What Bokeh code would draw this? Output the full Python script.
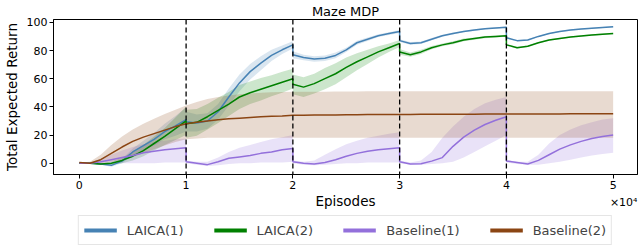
from bokeh.plotting import figure
from bokeh.layouts import column
from bokeh.models import Span, Legend, LegendItem, Label, FixedTicker, Range1d, ColumnDataSource
from bokeh.embed import file_html
from bokeh.resources import INLINE

# ---------------- data ----------------
stage_starts = [0, 10000, 20000, 30000, 40000]
stage_offsets = [0, 1000, 2000, 3000, 4000, 5000, 6000, 7000, 8000, 9000, 10000]
episodes = [s + o for s in stage_starts for o in stage_offsets]

laica1 = [0, 0, -0.5, -1.5, 1.5, 8, 12.5, 17, 22.5, 26.5, 31,
          29.5, 28.5, 30, 36.5, 47, 57, 65, 71, 76.5, 80.5, 84,
          77, 75, 74, 74.5, 76.5, 80.5, 85.5, 88, 90.5, 92, 93.5,
          87, 85, 85.5, 88, 90.5, 92, 93.5, 94.5, 95.5, 96, 96.5,
          89, 87, 87.5, 90, 92, 93.5, 94.5, 95.2, 95.8, 96.3, 96.8]
laica1_hw = [0, 0, 0.5, 1, 1.5, 2.5, 3.5, 4.5, 5.5, 7, 8.5,
             7, 6, 5.5, 5.5, 6, 6, 5.5, 5, 4, 3, 2.5,
             2.5, 2, 2, 2, 2, 1.5, 1.5, 1.2, 1, 1, 1,
             1, 1, 0.8, 0.8, 0.7, 0.7, 0.6, 0.6, 0.5, 0.5, 0.5,
             0.5, 0.5, 0.5, 0.5, 0.4, 0.4, 0.4, 0.4, 0.4, 0.4, 0.4]

laica2 = [0, 0, -0.5, 0, 2, 5, 9, 14, 19, 24.5, 30,
          28, 29, 33, 37.5, 42, 47, 50, 52.5, 55, 57.5, 60,
          56, 54, 56.5, 60, 63.5, 68, 72, 75.5, 79, 82, 85,
          79, 77, 79, 82, 84, 85.5, 87.5, 88.5, 89.5, 90, 90.5,
          84, 82, 83, 85.5, 87.5, 88.5, 89.5, 90.3, 91, 91.5, 92]
laica2_hw = [0, 0, 0.5, 1, 2, 3, 4, 5, 6, 8, 10,
             10, 9.5, 9, 9, 8.5, 8.5, 8, 8, 7.5, 7.5, 7,
             7, 7, 7, 7.5, 7.5, 7, 6, 5, 4, 3, 2.5,
             2, 1.5, 1.5, 1.2, 1, 1, 1, 0.8, 0.8, 0.7, 0.7,
             0.7, 0.6, 0.6, 0.6, 0.5, 0.5, 0.5, 0.5, 0.5, 0.5, 0.5]

base1 = [0, 0, 1, 2.5, 4, 5.5, 7.5, 8.5, 9.5, 10.3, 11,
         1, 0, -1, 1, 3.5, 4.5, 5.5, 7, 8, 9.5, 10.5,
         1, 0, -0.5, 0.5, 2.5, 5, 7, 8.5, 9.5, 10.3, 11,
         1, -0.5, -0.3, 1.5, 4, 12, 18.5, 23.5, 27.5, 30.5, 33,
         1.5, 0.5, -0.5, 2, 6, 10, 13, 15.5, 17.5, 19, 20]
base1_hi = [0, 0.5, 3, 6, 9, 11.5, 13.5, 15, 16, 17, 17.5,
            2, 1, 1, 4, 8, 11, 13, 15, 17, 18.5, 20,
            2, 1, 2, 6, 10, 13.5, 16, 18, 19.5, 21, 22,
            2, 0.5, 2, 8, 18, 26, 33, 38.5, 42.5, 45, 47,
            2.5, 1, 1, 6, 14, 20, 24, 27, 29, 31, 32]
base1_lo = [0, -0.5, -0.5, 0, 0, 0, 0, 0, 0.5, 0.5, 0.5,
            0, -1, -2, -1.5, -0.5, 0, 0, 0.5, 0.5, 0.5, 1,
            0, -1, -1.5, -1, -0.5, 0, 0, 0.5, 0.5, 0.5, 0.5,
            0, -1, -1, -0.5, 0, 1, 4, 8, 12, 16, 20,
            0.5, -0.5, -1, -1, 0, 1, 2.5, 4, 5.5, 6.5, 7.5]

base2 = [0.5, 0, 2.5, 7, 11.5, 15.5, 18.5, 21, 23.5, 26, 28,
         28, 29, 30, 30.8, 31.5, 32, 32.5, 33, 33.3, 33.6, 34,
         34, 34.1, 34.2, 34.3, 34.3, 34.4, 34.4, 34.5, 34.5, 34.5, 34.6,
         34.6, 34.6, 34.7, 34.7, 34.7, 34.8, 34.8, 34.8, 34.9, 34.9, 34.9,
         34.9, 35, 35, 35, 35, 35, 35.1, 35.1, 35.1, 35.1, 35.1]
base2_hi = [0.5, 1, 6, 13, 19, 24, 28, 31.5, 35, 38, 41,
            41, 43.5, 45.5, 47, 48, 49, 49.5, 50, 50.3, 50.5, 50.7,
            50.7, 50.8, 50.8, 50.8, 50.9, 50.9, 50.9, 51, 51, 51, 51,
            51, 51, 51, 51, 51, 51, 51, 51, 51, 51, 51,
            51, 51, 51, 51, 51, 51, 51, 51, 51, 51, 51]
base2_lo = [0.5, -0.5, 0, 1, 2.5, 4.5, 7, 10, 12.5, 15, 17,
            17, 17.5, 18, 18, 18, 18, 18, 18, 18, 18, 18,
            18, 18, 18, 18, 18, 18, 18, 18, 18, 18, 18,
            18, 18, 18, 18, 18, 18, 18, 18, 18, 18, 18,
            18, 18, 18, 18, 18, 18, 18, 18, 18, 18, 18]

series_names = ["LAICA(1)", "LAICA(2)", "Baseline(1)", "Baseline(2)"]
series_colors = ["#4682b4", "#008000", "#9370db", "#8b4513"]
x_ticks = [0, 10000, 20000, 30000, 40000, 50000]
x_tick_labels = ["0", "1", "2", "3", "4", "5"]
y_ticks = [0, 20, 40, 60, 80, 100]
boundaries = [10000, 20000, 30000, 40000]

# ---------------- main figure ----------------
FONT = "DejaVu Sans"
W = 640
H1 = 192
H2 = 56
BL, BR = 48, 3
xr = Range1d(-2420, 52280)

p = figure(width=W, height=H1, output_backend="svg", toolbar_location=None,
           x_range=xr, y_range=Range1d(-8, 102),
           min_border_left=BL, min_border_right=BR, min_border_top=16, min_border_bottom=18,
           title="Maze MDP")
p.title.align = "center"
p.title.text_font = FONT
p.title.text_font_size = "13px"
p.title.text_font_style = "normal"
p.title.text_color = "black"
p.title.standoff = 2
p.title.offset = 0

p.grid.visible = False
p.outline_line_color = "black"
p.outline_line_width = 1
p.background_fill_color = "white"
p.border_fill_color = "white"

src = ColumnDataSource(dict(
    x=episodes,
    l1=laica1, l1_lo=[m - h for m, h in zip(laica1, laica1_hw)], l1_hi=[m + h for m, h in zip(laica1, laica1_hw)],
    l2=laica2, l2_lo=[m - h for m, h in zip(laica2, laica2_hw)], l2_hi=[m + h for m, h in zip(laica2, laica2_hw)],
    b1=base1, b1_lo=base1_lo, b1_hi=base1_hi,
    b2=base2, b2_lo=base2_lo, b2_hi=base2_hi,
))

keys = ["l1", "l2", "b1", "b2"]
for k, c in zip(keys, series_colors):
    p.varea(x="x", y1=k + "_lo", y2=k + "_hi", source=src, fill_color=c, fill_alpha=0.2)

for b in boundaries:
    p.add_layout(Span(location=b, dimension="height", line_color="black",
                      line_dash="5 3", line_width=1.3))

for k, c in zip(keys, series_colors):
    p.line(x="x", y=k, source=src, line_color=c, line_width=1.5)

for ax in (p.xaxis[0], p.yaxis[0]):
    ax.axis_line_color = "black"
    ax.major_tick_line_color = "black"
    ax.major_tick_out = 4
    ax.major_tick_in = 0
    ax.minor_tick_line_color = None
    ax.major_label_text_font = FONT
    ax.major_label_text_font_size = "11px"
    ax.major_label_text_color = "black"
    ax.axis_label_text_font = FONT
    ax.axis_label_text_font_size = "13.5px"
    ax.axis_label_text_font_style = "normal"
    ax.axis_label_text_color = "black"
    ax.major_label_standoff = 2
    ax.axis_label_standoff = 4

p.xaxis.ticker = FixedTicker(ticks=x_ticks)
p.xaxis.major_label_overrides = {t: l for t, l in zip(x_ticks, x_tick_labels)}
p.yaxis.ticker = FixedTicker(ticks=y_ticks)
p.yaxis.axis_label = "Total Expected Return"

# ---------------- lower strip: x label, multiplier, legend ----------------
p2 = figure(width=W, height=H2, output_backend="svg", toolbar_location=None,
            x_range=xr, y_range=Range1d(0, H2),
            min_border_left=BL, min_border_right=BR, min_border_top=0, min_border_bottom=0,
            x_axis_location=None, y_axis_location=None)
p2.grid.visible = False
p2.outline_line_color = None
p2.background_fill_color = "white"
p2.border_fill_color = "white"

p2.add_layout(Label(x=(xr.start + xr.end) / 2, y=H2 - 8, text="Episodes", text_align="center",
                    text_baseline="middle", text_font=FONT, text_font_size="13.5px", text_color="black"))
p2.add_layout(Label(x=xr.end, y=H2 - 9.5, text="×10⁴", text_align="right", text_baseline="middle",
                    text_font=FONT, text_font_size="11px", text_color="black"))

nan = float("nan")
items = []
for name, c in zip(series_names, series_colors):
    r = p2.line(x=[nan], y=[nan], line_color=c, line_width=4)
    items.append(LegendItem(label=name, renderers=[r]))
legend = Legend(items=items, orientation="horizontal", location="bottom_center",
                glyph_width=33, glyph_height=18, label_height=18, label_standoff=10, spacing=30,
                padding=5, margin=3, label_text_font=FONT, label_text_font_size="13px",
                border_line_color="#cccccc", border_line_width=1, background_fill_alpha=1)
p2.add_layout(legend, "center")

open("out.html", "w").write(file_html(column(p, p2, spacing=0), INLINE))
